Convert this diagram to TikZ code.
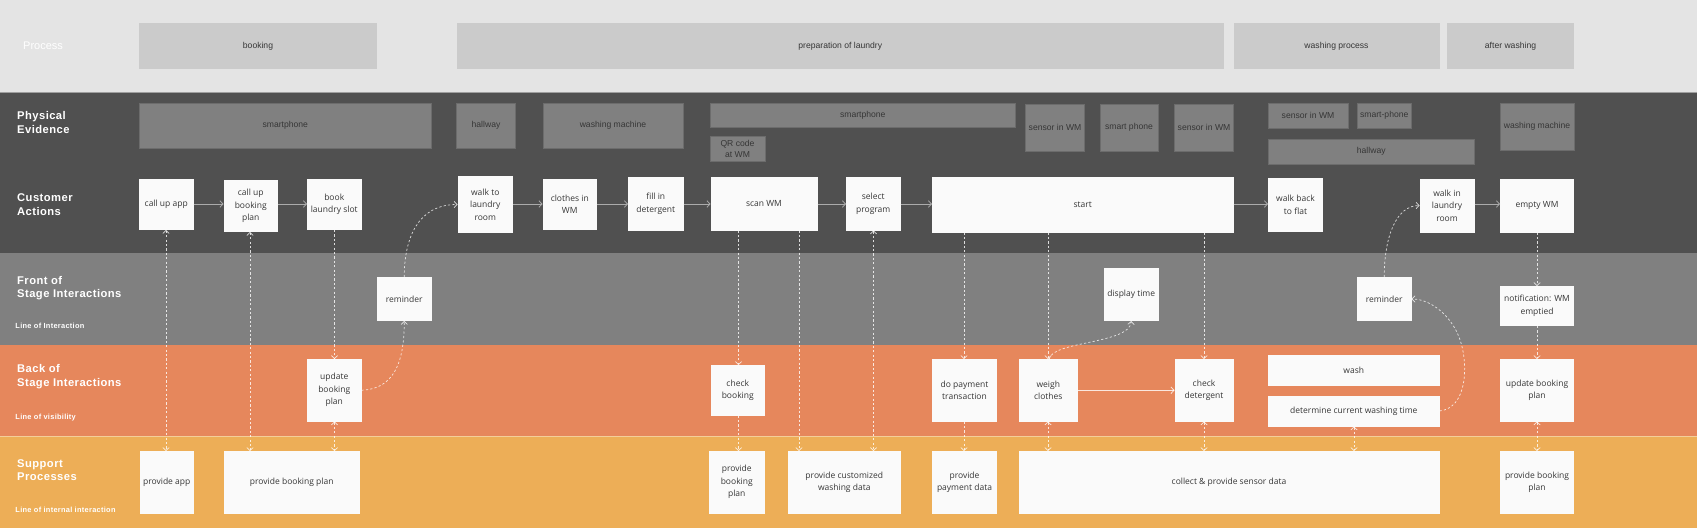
\documentclass[tikz,border=0pt]{standalone}
\usepackage{fontspec}
\setmainfont{Open Sans}
\newfontfamily\arialf{Liberation Sans}
\newfontfamily\labf[LetterSpace=4]{Liberation Sans}
\usetikzlibrary{arrows.meta}
\definecolor{procbg}{HTML}{E4E4E4}
\definecolor{procbox}{HTML}{CBCBCB}
\definecolor{darkbg}{HTML}{505050}
\definecolor{pebox}{HTML}{808080}
\definecolor{peline}{HTML}{6C6C6C}
\definecolor{frontbg}{HTML}{808080}
\definecolor{backbg}{HTML}{E6875C}
\definecolor{suppbg}{HTML}{EDAE57}
\definecolor{wboxc}{HTML}{FAFAFA}
\definecolor{txt}{HTML}{363636}
\definecolor{solidc}{HTML}{ABABAB}
\newcommand\mkbox[7]{\node[#1, minimum width={#5-#3}, minimum height={#6-#4}] (#2) at ({(#3+#5)/2},{(#4+#6)/2}) {#7};}
\begin{document}
\begin{tikzpicture}[x=1pt,y=-1pt,
  >={Straight Barb[length=3pt,width=6.5pt]},
  procb/.style={fill=procbox, draw=none, inner sep=0pt, outer sep=0pt, font=\arialf\fontsize{8.6}{11}\selectfont, text=txt, align=center},
  peb/.style={fill=pebox, draw=peline, line width=0.6pt, inner sep=0pt, outer sep=0pt, font=\arialf\fontsize{8.6}{11}\selectfont, text=txt, align=center},
  wb/.style={fill=wboxc, draw=none, inner sep=0pt, outer sep=0pt, font=\fontsize{8.5}{12.5}\selectfont, text=txt, align=center},
  lab/.style={anchor=west, align=left, font=\labf\bfseries\fontsize{11.2}{13.3}\selectfont, text=white, inner sep=0pt},
  smalllab/.style={anchor=west, font=\labf\bfseries\fontsize{7.4}{9}\selectfont, text=white, inner sep=0pt},
  dc/.style={draw=white, draw opacity=0.8, line width=0.7pt, dash pattern=on 2.2pt off 2.2pt},
  sa/.style={draw=solidc, line width=0.8pt, ->},
  sw/.style={draw=white, draw opacity=0.8, line width=0.8pt, ->}]
\useasboundingbox (0,0) rectangle (1697,528);
% bands
\fill[procbg] (0,0) rectangle (1697,92);
\fill[darkbg] (0,92) rectangle (1697,253);
\fill[frontbg] (0,253) rectangle (1697,345);
\fill[backbg] (0,345) rectangle (1697,436);
\fill[suppbg] (0,436) rectangle (1697,528);
\draw[color=gray!75, line width=0.6pt] (0,92) -- (1697,92);
\draw[color=suppbg!60!white, line width=0.5pt] (0,436) -- (1697,436);
% lane labels
\node[anchor=west, inner sep=0pt, text=white, font=\arialf\fontsize{11}{13}\selectfont] (lproc) at (23,46) {Process};
\node[lab] (lpe) at (17,122.4) {Physical\\Evidence};
\node[lab] (lca) at (17,204.7) {Customer\\Actions};
\node[lab] (lfs) at (17,288.3) {Front of\\Stage Interactions};
\node[smalllab] (lli) at (15.3,326.3) {Line of Interaction};
\node[lab] (lbs) at (17,376.7) {Back of\\Stage Interactions};
\node[smalllab] (llv) at (15.3,418) {Line of visibility};
\node[lab] (lsp) at (17,470.3) {Support\\Processes};
\node[smalllab] (llii) at (15.3,510) {Line of internal interaction};
% process
\mkbox{procb}{P1}{139}{23}{377}{69}{booking}
\mkbox{procb}{P2}{456.5}{23}{1224}{69}{preparation of laundry}
\mkbox{procb}{P3}{1233.5}{23}{1439.5}{69}{washing process}
\mkbox{procb}{P4}{1447}{23}{1574}{69}{after washing}
% physical evidence
\mkbox{peb}{E1}{139}{103}{431.5}{148.5}{smartphone}
\mkbox{peb}{E2}{456.5}{103}{515.5}{148.5}{hallway}
\mkbox{peb}{E3}{543}{103}{683}{148.5}{washing machine}
\mkbox{peb}{E4}{710}{103}{1015.5}{127.5}{smartphone}
\mkbox{peb}{E5}{710}{136}{765}{161.5}{QR code\\at WM}
\mkbox{peb}{E6}{1025.5}{104}{1084.5}{151.5}{sensor in WM}
\mkbox{peb}{E7}{1100}{104}{1158}{151.5}{smart phone}
\mkbox{peb}{E8}{1174.5}{104}{1233.5}{151.5}{sensor in WM}
\mkbox{peb}{E9}{1268}{103}{1348}{128.5}{sensor in WM}
\mkbox{peb}{E10}{1357}{103}{1411.5}{128.5}{smart-phone}
\mkbox{peb}{E11}{1268}{139}{1474.5}{164}{hallway}
\mkbox{peb}{E12}{1500}{103}{1574}{150}{washing machine}
% customer actions
\mkbox{wb}{C1}{139}{179}{193.5}{230}{call up app}
\mkbox{wb}{C2}{223.5}{180}{278}{232}{call up\\booking\\plan}
\mkbox{wb}{C3}{307}{179}{361.5}{230}{book\\laundry slot}
\mkbox{wb}{C4}{457.5}{176}{513}{233}{walk to\\laundry\\room}
\mkbox{wb}{C5}{542.5}{179}{597}{230}{clothes in\\WM}
\mkbox{wb}{C6}{628}{177}{683.5}{230.5}{fill in\\detergent}
\mkbox{wb}{C7}{710.5}{177}{817.5}{230.5}{scan WM}
\mkbox{wb}{C8}{846}{177}{900.5}{230.5}{select\\program}
\mkbox{wb}{C9}{932}{177}{1233.5}{232.5}{start}
\mkbox{wb}{C10}{1268}{178}{1323}{231.5}{walk back\\to flat}
\mkbox{wb}{C11}{1419.5}{178.5}{1474.5}{232.5}{walk in\\laundry\\room}
\mkbox{wb}{C12}{1500}{178.5}{1574}{232.5}{empty WM}
% front of stage
\mkbox{wb}{F1}{377}{277}{431.5}{321}{reminder}
\mkbox{wb}{F2}{1104}{268}{1158.5}{321}{display time}
\mkbox{wb}{F3}{1357}{277}{1411.5}{321}{reminder}
\mkbox{wb}{F4}{1500}{286}{1574}{326}{notification: WM\\emptied}
% back of stage
\mkbox{wb}{B1}{307}{359}{361.5}{421.5}{update\\booking\\plan}
\mkbox{wb}{B2}{710.5}{365}{765}{415.5}{check\\booking}
\mkbox{wb}{B3}{932}{359}{997}{421.5}{do payment\\transaction}
\mkbox{wb}{B4}{1018.5}{359}{1078}{421.5}{weigh\\clothes}
\mkbox{wb}{B5}{1174.5}{359}{1233.5}{421.5}{check\\detergent}
\mkbox{wb}{B6}{1268}{354.5}{1439.5}{385.5}{wash}
\mkbox{wb}{B7}{1268}{395.5}{1439.5}{426.5}{determine current washing time}
\mkbox{wb}{B8}{1500}{359}{1574}{421.5}{update booking\\plan}
% support
\mkbox{wb}{S1}{139.5}{451}{194}{513.5}{provide app}
\mkbox{wb}{S2}{224}{451}{359.5}{513.5}{provide booking plan}
\mkbox{wb}{S3}{708.5}{451}{765}{513.5}{provide\\booking\\plan}
\mkbox{wb}{S4}{788}{451}{900.5}{513.5}{provide customized\\washing data}
\mkbox{wb}{S5}{932}{451}{997}{513.5}{provide\\payment data}
\mkbox{wb}{S6}{1018.5}{451}{1439.5}{513.5}{collect \& provide sensor data}
\mkbox{wb}{S7}{1500}{451}{1574}{513.5}{provide booking\\plan}
% solid arrows in customer row
\coordinate (row) at (0,204);
\draw[sa] (C1.east |- row) -- (C2.west |- row);
\draw[sa] (C2.east |- row) -- (C3.west |- row);
\draw[sa] (C4.east |- row) -- (C5.west |- row);
\draw[sa] (C5.east |- row) -- (C6.west |- row);
\draw[sa] (C6.east |- row) -- (C7.west |- row);
\draw[sa] (C7.east |- row) -- (C8.west |- row);
\draw[sa] (C8.east |- row) -- (C9.west |- row);
\draw[sa] (C9.east |- row) -- (C10.west |- row);
\draw[sa] (C11.east |- row) -- (C12.west |- row);
\draw[sw] (B4.east) -- (B5.west);
% vertical dashed connectors
\coordinate (v1) at (166,0);
\coordinate (v2) at (250,0);
\coordinate (v3) at (334.5,0);
\coordinate (v4) at (738.5,0);
\coordinate (v5) at (799,0);
\coordinate (v6) at (873.5,0);
\coordinate (v7) at (964,0);
\coordinate (v8) at (1048,0);
\coordinate (v9) at (1204,0);
\coordinate (v10) at (1354,0);
\coordinate (v11) at (1537,0);
\draw[dc,<->] (C1.south -| v1) -- (S1.north -| v1);
\draw[dc,<->] (C2.south -| v2) -- (S2.north -| v2);
\draw[dc,->] (C3.south -| v3) -- (B1.north -| v3);
\draw[dc,<->] (B1.south -| v3) -- (S2.north -| v3);
\draw[dc,->] (C7.south -| v4) -- (B2.north -| v4);
\draw[dc,->] (B2.south -| v4) -- (S3.north -| v4);
\draw[dc,->] (C7.south -| v5) -- (S4.north -| v5);
\draw[dc,<->] (C8.south -| v6) -- (S4.north -| v6);
\draw[dc,->] (C9.south -| v7) -- (B3.north -| v7);
\draw[dc,->] (B3.south -| v7) -- (S5.north -| v7);
\draw[dc,->] (C9.south -| v8) -- (B4.north -| v8);
\draw[dc,<->] (B4.south -| v8) -- (S6.north -| v8);
\draw[dc,->] (C9.south -| v9) -- (B5.north -| v9);
\draw[dc,<->] (B5.south -| v9) -- (S6.north -| v9);
\draw[dc,<->] (B7.south -| v10) -- (S6.north -| v10);
\draw[dc,->] (C12.south -| v11) -- (F4.north -| v11);
\draw[dc,->] (F4.south -| v11) -- (B8.north -| v11);
\draw[dc,<->] (B8.south -| v11) -- (S7.north -| v11);
% curved dashed connectors
\draw[dc,->] (B1.east) .. controls (392,389) and (404.25,366) .. (F1.south);
\draw[dc,->] (F1.north) .. controls (404.25,238) and (418,204.5) .. (C4.west);
\draw[dc,->] ([xshift=1pt]B4.north) .. controls (1052,341) and (1130,344) .. (F2.south);
\draw[dc,->] (B7.east) .. controls (1467,408) and (1468,366) .. (1461,343) .. controls (1454,318) and (1432,299) .. (F3.east);
\draw[dc,->] (F3.north) .. controls (1384.25,235) and (1397,205.5) .. (C11.west);
\end{tikzpicture}
\end{document}
